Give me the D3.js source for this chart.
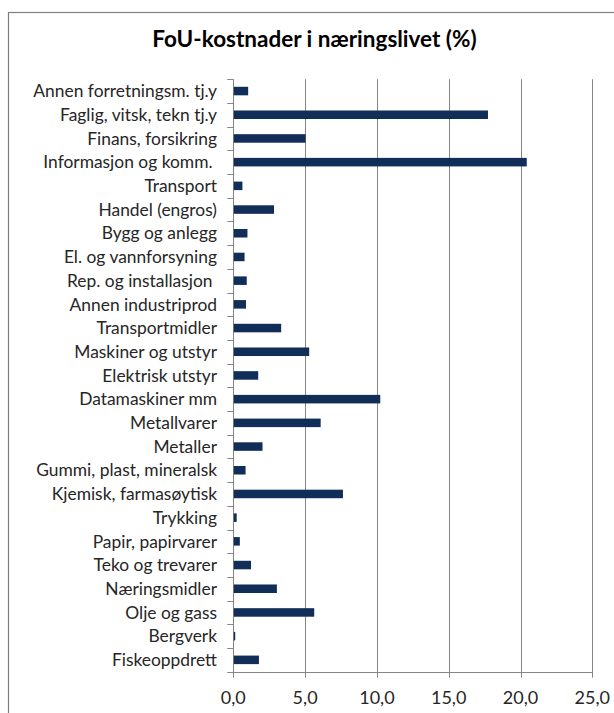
<!DOCTYPE html>
<html>
<head>
<meta charset="utf-8">
<script src="https://cdn.jsdelivr.net/npm/d3@7"></script>
<style>
  html, body { margin: 0; padding: 0; background: #fff; }
  svg { display: block; }
  text { font-family: Lato, "Open Sans", sans-serif; }
</style>
</head>
<body>
<svg id="chart" width="614" height="713"></svg>
<script>
const title = "FoU-kostnader i næringslivet (%)";
const categories = [
  "Annen forretningsm. tj.y",
  "Faglig, vitsk, tekn tj.y",
  "Finans, forsikring",
  "Informasjon og komm. ",
  "Transport",
  "Handel (engros)",
  "Bygg og anlegg",
  "El. og vannforsyning",
  "Rep. og installasjon ",
  "Annen industriprod",
  "Transportmidler",
  "Maskiner og utstyr",
  "Elektrisk utstyr",
  "Datamaskiner mm",
  "Metallvarer",
  "Metaller",
  "Gummi, plast, mineralsk",
  "Kjemisk, farmasøytisk",
  "Trykking",
  "Papir, papirvarer",
  "Teko og trevarer",
  "Næringsmidler",
  "Olje og gass",
  "Bergverk",
  "Fiskeoppdrett"
];
const values = [
  1.0, 17.7, 5.0, 20.4, 0.6, 2.8, 0.95, 0.75, 0.9, 0.85,
  3.3, 5.25, 1.7, 10.2, 6.05, 2.0, 0.82, 7.6, 0.2, 0.42,
  1.2, 3.0, 5.6, 0.1, 1.75
];
const tickValues = [0, 5, 10, 15, 20, 25];
const tickLabels = ["0,0", "5,0", "10,0", "15,0", "20,0", "25,0"];

(function () {
const svg = d3.select("#chart");
const pLeft = 233.3, pRight = 592.3, pTop = 79.2, pBottom = 671.7;
const grid = "#868686";

// chart frame
svg.append("rect")
  .attr("x", 8.5).attr("y", 12.5)
  .attr("width", 620).attr("height", 720)
  .attr("fill", "none").attr("stroke", "#7f7f7f").attr("stroke-width", 1.2);

const x = d3.scaleLinear().domain([0, 25]).range([pLeft, pRight]);
const y = d3.scaleBand().domain(categories).range([pTop, pBottom])
  .paddingInner(0.64).paddingOuter(0.32);

// gridlines (extend slightly below axis as tick marks)
svg.append("g").selectAll("line").data(tickValues).join("line")
  .attr("x1", d => Math.round(x(d)) + 0.5).attr("x2", d => Math.round(x(d)) + 0.5)
  .attr("y1", pTop).attr("y2", pBottom + 6)
  .attr("stroke", grid).attr("stroke-width", 1);

// bottom axis line
svg.append("line")
  .attr("x1", pLeft).attr("x2", pRight + 0.5)
  .attr("y1", Math.round(pBottom) + 0.5).attr("y2", Math.round(pBottom) + 0.5)
  .attr("stroke", grid);

// category tick marks at band boundaries
const step = y.step();
const bounds = d3.range(categories.length + 1).map(i => pTop + i * step);
svg.append("g").selectAll("line").data(bounds).join("line")
  .attr("x1", pLeft - 6).attr("x2", pLeft)
  .attr("y1", d => Math.round(d) + 0.5).attr("y2", d => Math.round(d) + 0.5)
  .attr("stroke", grid);

// bars
svg.append("g").selectAll("rect").data(values).join("rect")
  .attr("x", x(0) + 0.5)
  .attr("y", (d, i) => y(categories[i]))
  .attr("width", d => x(d) - x(0))
  .attr("height", y.bandwidth())
  .attr("fill", "#112e58");

// category labels
svg.append("g").selectAll("text").data(categories).join("text")
  .attr("x", 217)
  .attr("y", d => y(d) + y.bandwidth() / 2 + 6.2)
  .attr("text-anchor", "end")
  .style("white-space", "pre")
  .attr("font-size", 17.4)
  .attr("fill", "#262626")
  .text(d => d);

// tick labels
svg.append("g").selectAll("text").data(tickValues).join("text")
  .attr("x", d => x(d))
  .attr("y", 704)
  .attr("text-anchor", "middle")
  .attr("font-size", 18)
  .attr("fill", "#262626")
  .text((d, i) => tickLabels[i]);

// title
svg.append("text")
  .attr("x", 314.5).attr("y", 46.7)
  .attr("text-anchor", "middle")
  .attr("font-size", 22.5)
  .attr("font-weight", "bold")
  .attr("fill", "#000")
  .text(title);
})();
</script>
</body>
</html>
